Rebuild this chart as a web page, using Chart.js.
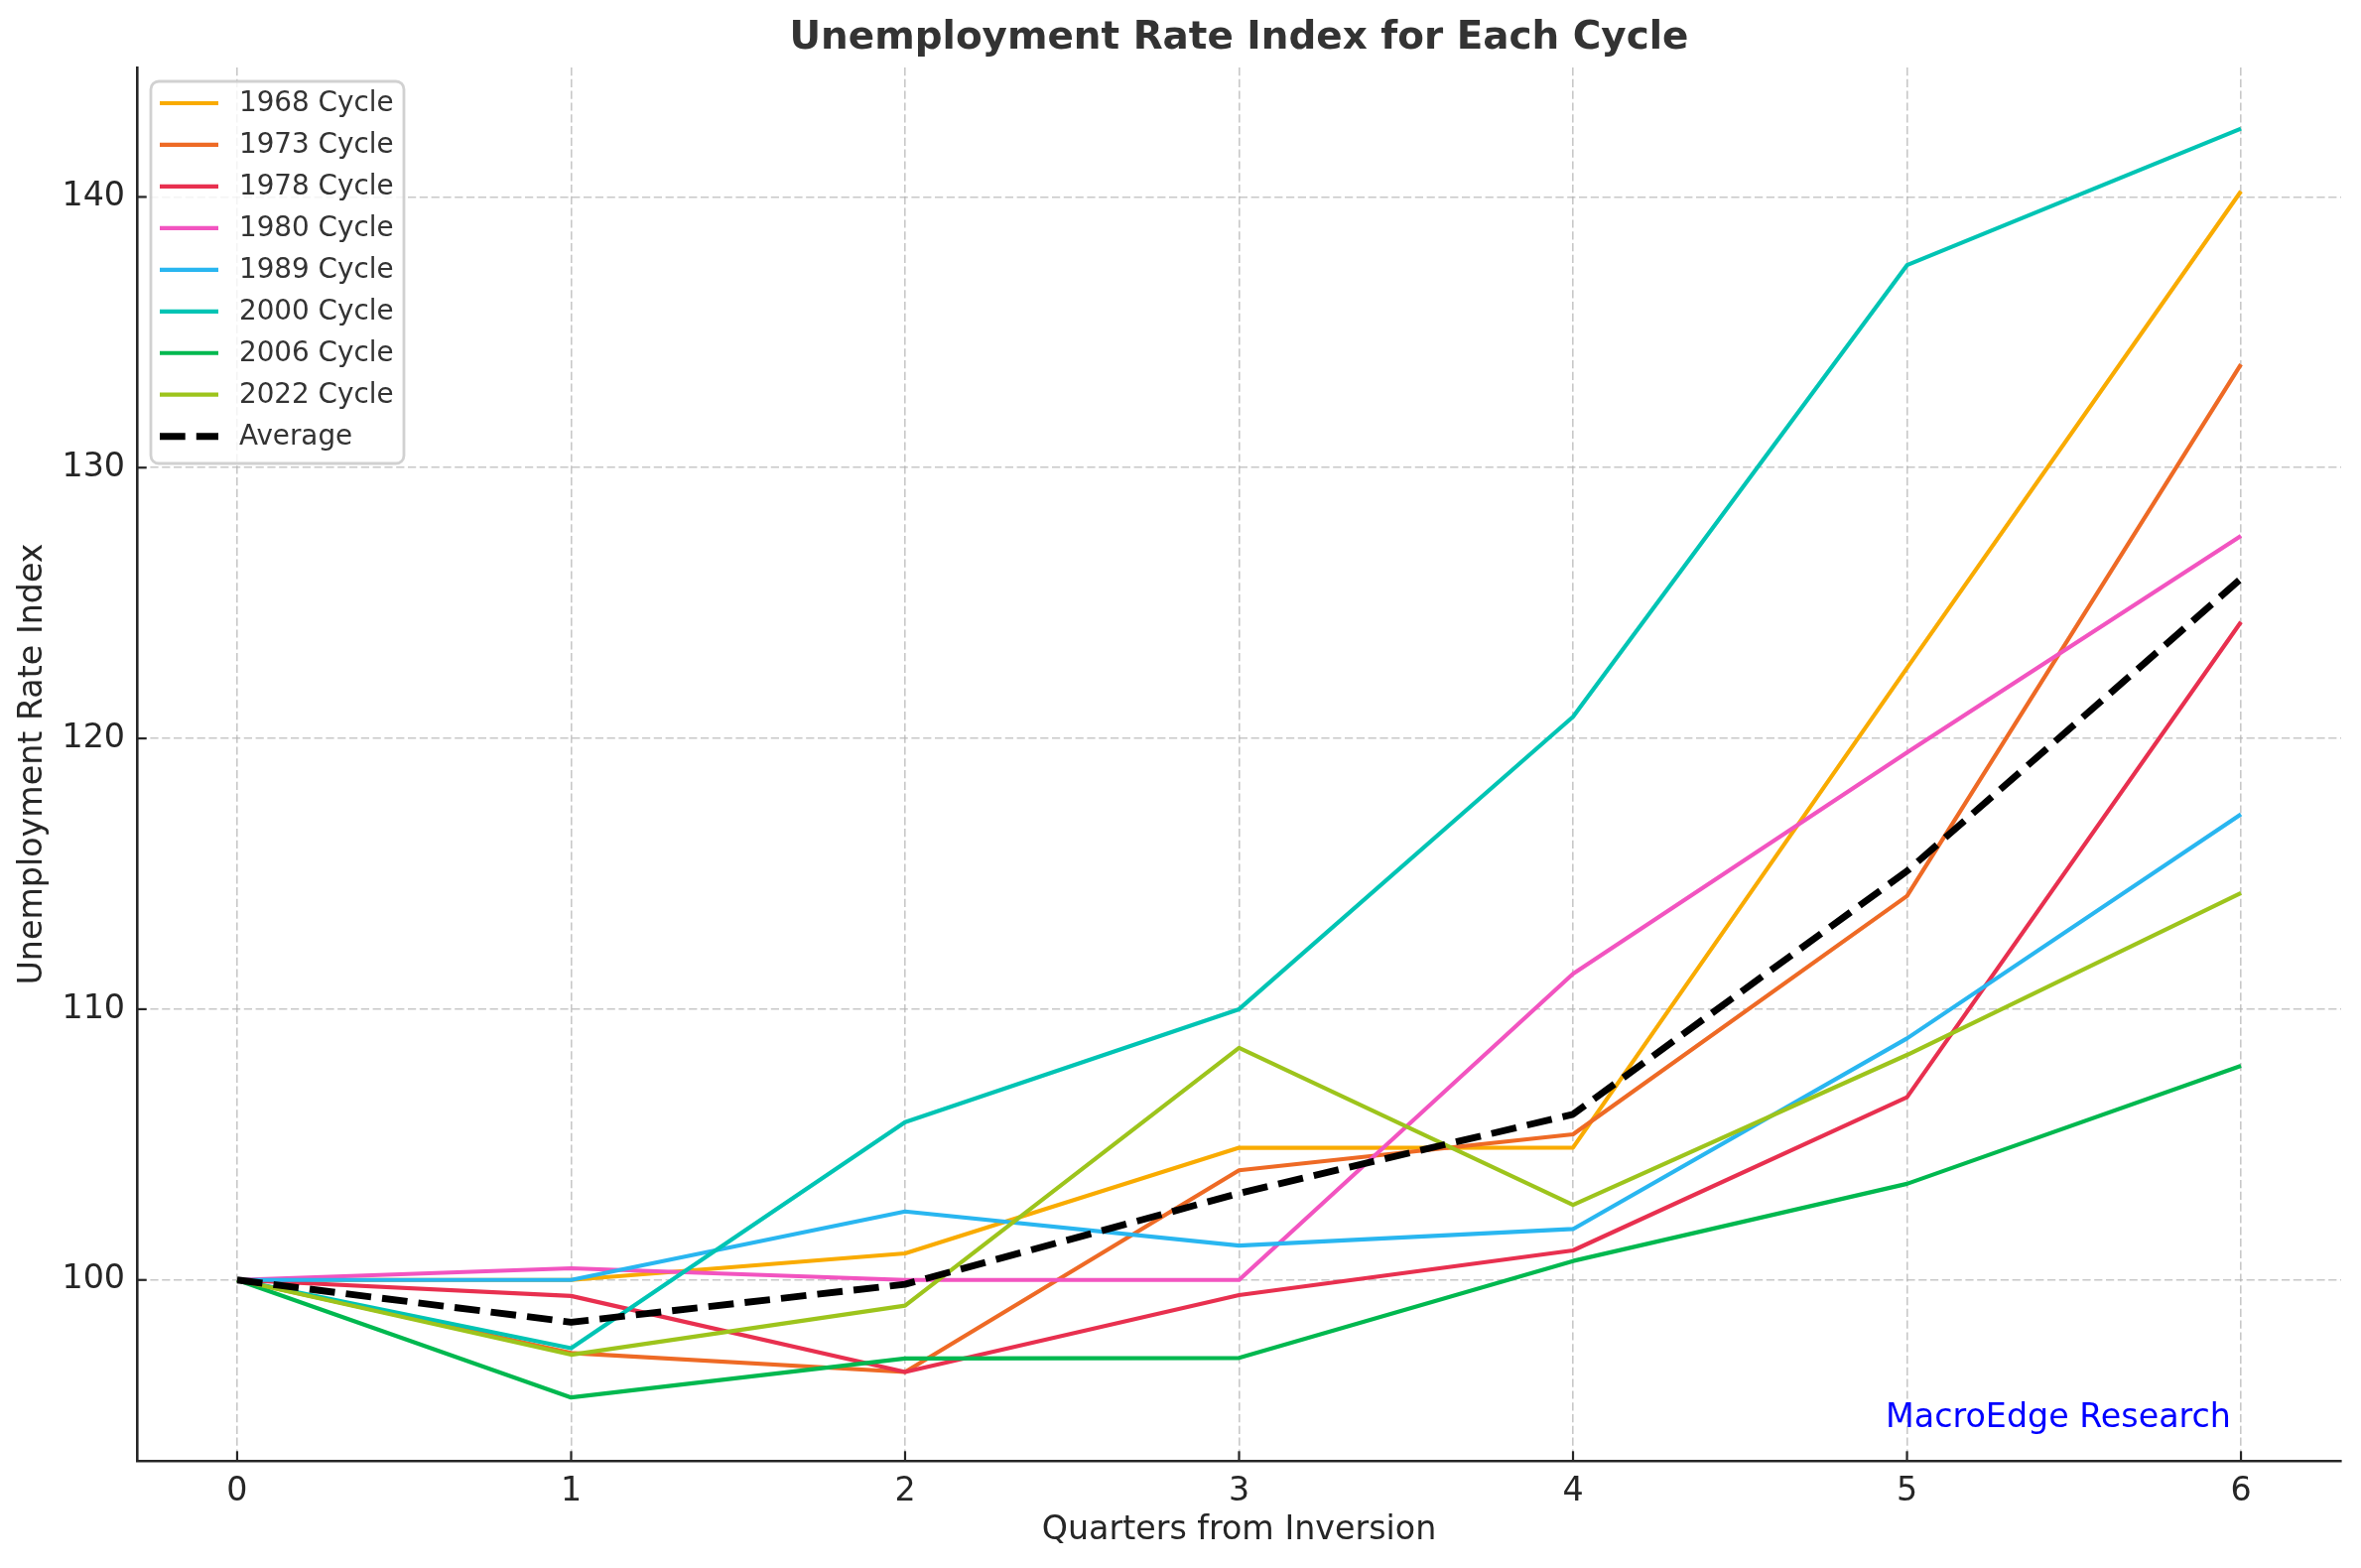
<!DOCTYPE html>
<html>
<head>
<meta charset="utf-8">
<title>Unemployment Rate Index for Each Cycle</title>
<script src="https://cdn.jsdelivr.net/npm/chart.js@4.4.1/dist/chart.umd.min.js"></script>
<style>
  html, body { margin: 0; padding: 0; background: #fff; }
  #chart { display: block; }
</style>
</head>
<body>
<canvas id="chart" width="2379" height="1580"></canvas>
<script>
// quarters from the yield curve inversion
const quarters = [0, 1, 2, 3, 4, 5, 6];

// unemployment rate index per cycle (start = 100)
const cycle1968 = [100, 100.0, 100.98, 104.88, 104.89, 122.6, 140.21];
const cycle1973 = [100, 97.3, 96.6, 104.05, 105.38, 114.18, 133.82];
const cycle1978 = [100, 99.41, 96.6, 99.44, 101.09, 106.75, 124.3];
const cycle1980 = [100, 100.43, 100.0, 100.0, 111.31, 119.48, 127.48];
const cycle1989 = [100, 100.0, 102.53, 101.27, 101.88, 108.92, 117.2];
const cycle2000 = [100, 97.48, 105.83, 110.0, 120.8, 137.48, 142.52];
const cycle2006 = [100, 95.66, 97.1, 97.12, 100.7, 103.55, 107.91];
const cycle2022 = [100, 97.24, 99.05, 108.57, 102.77, 108.31, 114.29];
const average = [100, 98.44, 99.84, 103.2, 106.12, 115.1, 125.9];

const seriesNames = ['1968 Cycle', '1973 Cycle', '1978 Cycle', '1980 Cycle', '1989 Cycle',
                     '2000 Cycle', '2006 Cycle', '2022 Cycle', 'Average'];
const seriesValues = [cycle1968, cycle1973, cycle1978, cycle1980, cycle1989,
                      cycle2000, cycle2006, cycle2022, average];
const seriesColors = ['#F9AB00', '#EE6A25', '#E8304F', '#F254C0', '#29B6F0',
                      '#00C4B4', '#00B84F', '#9DC41C', '#000000'];

const xTicks = [0, 1, 2, 3, 4, 5, 6];
const yTicks = [100, 110, 120, 130, 140];

const FONT = "'DejaVu Sans', sans-serif";
const INK = '#262626';
const GRID = 'rgba(176, 176, 176, 0.7)';

const datasets = seriesNames.map((name, i) => {
    const isAvg = name === 'Average';
    return {
        label: name,
        data: quarters.map((q, j) => ({ x: q, y: seriesValues[i][j] })),
        borderColor: seriesColors[i],
        backgroundColor: seriesColors[i],
        borderWidth: isAvg ? 6.9 : 4.2,
        borderDash: isAvg ? [25.7, 11.1] : [],
        borderJoinStyle: 'round',
        pointRadius: 0,
        tension: 0,
        fill: false,
        // later series on top, like the original plot order
        order: seriesNames.length - i
    };
});

// legend box inside the plot, top left
const boxLegend = {
    id: 'boxLegend',
    afterDatasetsDraw(chart) {
        const { ctx, chartArea: a } = chart;
        const bx = a.left + 14, by = a.top + 14, bw = 255, bh = 385;
        ctx.save();
        ctx.beginPath();
        ctx.roundRect(bx, by, bw, bh, 8);
        ctx.fillStyle = 'rgba(255, 255, 255, 0.8)';
        ctx.fill();
        ctx.lineWidth = 2.8;
        ctx.strokeStyle = 'rgba(204, 204, 204, 0.9)';
        ctx.stroke();

        ctx.font = `27.8px ${FONT}`;
        ctx.textAlign = 'left';
        ctx.textBaseline = 'middle';
        chart.data.datasets.forEach((ds, i) => {
            const cy = by + 22 + i * 41.96;
            ctx.beginPath();
            ctx.lineCap = 'butt';
            ctx.strokeStyle = ds.borderColor;
            ctx.lineWidth = ds.borderWidth;
            ctx.setLineDash(ds.borderDash);
            ctx.moveTo(bx + 9, cy);
            ctx.lineTo(bx + 68, cy);
            ctx.stroke();
            ctx.setLineDash([]);
            ctx.fillStyle = '#333333';
            ctx.fillText(ds.label, bx + 89, cy + 1);
        });
        ctx.restore();
    }
};

// title, inward tick marks and the research tag
const decor = {
    id: 'decor',
    afterDraw(chart) {
        const { ctx, chartArea: a, scales: { x, y } } = chart;
        ctx.save();
        ctx.strokeStyle = INK;
        ctx.lineWidth = 2.2;
        x.ticks.forEach(t => {
            const px = x.getPixelForValue(t.value);
            ctx.beginPath();
            ctx.moveTo(px, a.bottom);
            ctx.lineTo(px, a.bottom - 9.7);
            ctx.stroke();
        });
        y.ticks.forEach(t => {
            const py = y.getPixelForValue(t.value);
            ctx.beginPath();
            ctx.moveTo(a.left, py);
            ctx.lineTo(a.left + 9.7, py);
            ctx.stroke();
        });

        ctx.fillStyle = '#333333';
        ctx.font = `bold 38.9px ${FONT}`;
        ctx.textAlign = 'center';
        ctx.textBaseline = 'middle';
        ctx.fillText('Unemployment Rate Index for Each Cycle', (a.left + a.right) / 2, 39);

        ctx.fillStyle = '#0000FF';
        ctx.font = `33.3px ${FONT}`;
        ctx.textAlign = 'right';
        ctx.textBaseline = 'bottom';
        ctx.fillText('MacroEdge Research', a.left + 0.95 * (a.right - a.left), a.bottom - 0.02 * (a.bottom - a.top) + 2);
        ctx.restore();
    }
};

new Chart(document.getElementById('chart'), {
    type: 'line',
    data: { datasets },
    options: {
        responsive: false,
        maintainAspectRatio: false,
        devicePixelRatio: 1,
        animation: false,
        layout: { padding: { left: 0, right: 20, top: 68, bottom: 0 } },
        plugins: {
            legend: { display: false },
            title: { display: false },
            tooltip: { enabled: false }
        },
        scales: {
            x: {
                type: 'linear',
                min: -0.3,
                max: 6.3,
                afterBuildTicks: s => { s.ticks = xTicks.map(v => ({ value: v })); },
                afterFit: s => { s.height = 108; },
                grid: { color: GRID, lineWidth: 1.6, drawTicks: false },
                border: { display: true, color: INK, width: 2.6, dash: [8.2, 3.6] },
                ticks: { padding: 11, color: INK, font: { family: FONT, size: 33.3 }, maxRotation: 0, autoSkip: false },
                title: {
                    display: true, text: 'Quarters from Inversion', color: INK,
                    font: { family: FONT, size: 33.3 }, padding: { top: 0, bottom: 18 }
                }
            },
            y: {
                type: 'linear',
                min: 93.32,
                max: 144.78,
                afterBuildTicks: s => { s.ticks = yTicks.map(v => ({ value: v })); },
                afterFit: s => { s.width = 138; },
                grid: { color: GRID, lineWidth: 1.6, drawTicks: false },
                border: { display: true, color: INK, width: 2.6, dash: [8.2, 3.6] },
                ticks: { padding: 12, color: INK, font: { family: FONT, size: 33.3 } },
                title: {
                    display: true, text: 'Unemployment Rate Index', color: INK,
                    font: { family: FONT, size: 33.3 }, padding: { top: 13, bottom: 0 }
                }
            }
        }
    },
    plugins: [boxLegend, decor]
});
</script>
</body>
</html>
